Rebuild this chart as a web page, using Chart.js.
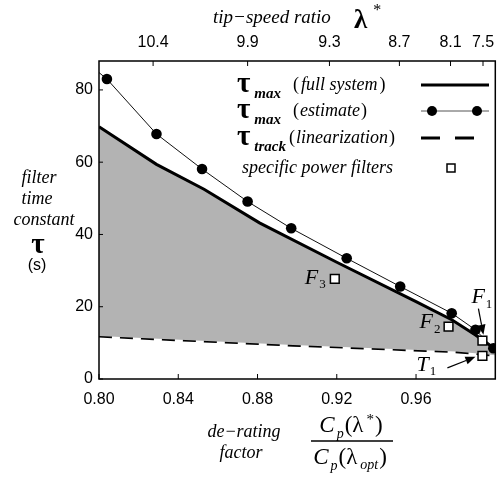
<!DOCTYPE html>
<html>
<head>
<meta charset="utf-8">
<script src="https://cdn.jsdelivr.net/npm/chart.js@4.4.1/dist/chart.umd.min.js"></script>
<style>
  html, body { margin: 0; padding: 0; background: #fff; }
</style>
</head>
<body>
<canvas id="tauChart" width="503" height="477"></canvas>
<script>
// de-rating factor (bottom axis) vs filter time constant tau (s)
const fullSystemX = [0.800, 0.829, 0.853, 0.881, 0.920, 0.960, 0.978, 0.990, 1.000];
const fullSystemY = [69.8, 59.4, 52.5, 43.2, 32.3, 21.4, 16.4, 12.2, 8.3];

const estimateX = [0.800, 0.804, 0.829, 0.852, 0.875, 0.897, 0.925, 0.952, 0.978, 0.990, 0.999];
const estimateY = [84.8, 83.0, 67.8, 58.1, 49.1, 41.7, 33.4, 25.6, 18.2, 13.6, 8.5];

const trackX = [0.800, 0.898, 0.980, 0.994, 1.000];
const trackY = [11.9, 9.4, 7.6, 6.9, 6.6];

// specific power filters F1, F2, F3, T1
const filterX = [0.9935, 0.9764, 0.919, 0.9935];
const filterY = [10.6, 14.5, 27.7, 6.4];
const filterNames = ['F', 'F', 'F', 'T'];
const filterSubs = ['1', '2', '3', '1'];

const bottomTickValues = [0.80, 0.84, 0.88, 0.92, 0.96];
const yTickValues = [0, 20, 40, 60, 80];
// top axis: tip-speed ratio, placed on the de-rating scale
const topTickValues = [0.8273, 0.8750, 0.9163, 0.9516, 0.9774, 0.9938];
const topTickLabels = ['10.4', '9.9', '9.3', '8.7', '8.1', '7.5'];

const toPoints = (xs, ys) => xs.map((x, i) => ({ x: x, y: ys[i] }));

const SERIF = "'Liberation Serif', 'Times New Roman', serif";
const SANS = "'Liberation Sans', Arial, sans-serif";

// draws a row of text pieces, each with its own font and vertical shift
function runWidth(ctx, runs) {
    let w = 0;
    runs.forEach(r => { ctx.font = r.font; w += ctx.measureText(r.t).width + (r.gap || 0); });
    return w;
}
function drawRuns(ctx, x, y, runs, align) {
    let cx = x;
    if (align === 'center') cx = x - runWidth(ctx, runs) / 2;
    runs.forEach(r => {
        ctx.font = r.font;
        ctx.fillText(r.t, cx, y + (r.dy || 0));
        cx += ctx.measureText(r.t).width + (r.gap || 0);
    });
}

function arrow(ctx, x1, y1, x2, y2) {
    const a = Math.atan2(y2 - y1, x2 - x1);
    const hl = 10, hw = 4;
    ctx.beginPath();
    ctx.moveTo(x1, y1);
    ctx.lineTo(x2 - hl * Math.cos(a), y2 - hl * Math.sin(a));
    ctx.lineWidth = 1.2;
    ctx.stroke();
    ctx.beginPath();
    ctx.moveTo(x2, y2);
    ctx.lineTo(x2 - hl * Math.cos(a) + hw * Math.sin(a), y2 - hl * Math.sin(a) - hw * Math.cos(a));
    ctx.lineTo(x2 - hl * Math.cos(a) - hw * Math.sin(a), y2 - hl * Math.sin(a) + hw * Math.cos(a));
    ctx.closePath();
    ctx.fill();
}

const decorPlugin = {
    id: 'decor',
    afterDraw(chart) {
        const ctx = chart.ctx;
        const area = chart.chartArea;
        const xs = chart.scales.x, ys = chart.scales.y, xt = chart.scales.xTop;
        ctx.save();
        ctx.fillStyle = '#000';
        ctx.strokeStyle = '#000';

        // frame + inward ticks
        ctx.lineWidth = 1.5;
        ctx.strokeRect(area.left, area.top, area.right - area.left, area.bottom - area.top);
        ctx.lineWidth = 1;
        ctx.beginPath();
        bottomTickValues.forEach(v => {
            const px = xs.getPixelForValue(v);
            ctx.moveTo(px, area.bottom); ctx.lineTo(px, area.bottom - 5);
        });
        topTickValues.forEach(v => {
            const px = xt.getPixelForValue(v);
            ctx.moveTo(px, area.top); ctx.lineTo(px, area.top + 5);
        });
        yTickValues.forEach(v => {
            const py = ys.getPixelForValue(v);
            ctx.moveTo(area.left, py); ctx.lineTo(area.left + 4, py);
        });
        ctx.stroke();

        // filter labels and arrows
        ctx.textBaseline = 'middle';
        ctx.textAlign = 'left';
        const labelOff = [[-11, -43], [-29, -4], [-30, -1], [-66, 9]];
        filterX.forEach((fx, i) => {
            const px = xs.getPixelForValue(fx), py = ys.getPixelForValue(filterY[i]);
            const lx = px + labelOff[i][0], ly = py + labelOff[i][1];
            drawRuns(ctx, lx, ly, [
                { t: filterNames[i], font: 'italic 22px ' + SERIF, gap: 1 },
                { t: filterSubs[i], font: '13px ' + SERIF, dy: 7 }
            ]);
        });
        const p1x = xs.getPixelForValue(filterX[0]), p1y = ys.getPixelForValue(filterY[0]);
        arrow(ctx, p1x - 4, p1y - 32, p1x + 1, p1y - 6);
        const t1x = xs.getPixelForValue(filterX[3]), t1y = ys.getPixelForValue(filterY[3]);
        arrow(ctx, t1x - 35, t1y + 12, t1x - 7, t1y + 1);

        // legend
        const tauFont = 'bold 29px ' + SERIF;
        const subFont = 'bold italic 15px ' + SERIF;
        const itFont = 'italic 18px ' + SERIF;
        const upFont = '18px ' + SERIF;
        const lgX = 237, sampleL = 421, sampleR = 489;
        const rows = [85, 111, 138, 168];
        drawRuns(ctx, lgX, rows[0], [
            { t: 'τ', font: tauFont, gap: 4 }, { t: 'max', font: subFont, dy: 9, gap: 12 },
            { t: '(', font: upFont, gap: 2 }, { t: 'full system', font: itFont, gap: 2 }, { t: ')', font: upFont }
        ]);
        drawRuns(ctx, lgX, rows[1], [
            { t: 'τ', font: tauFont, gap: 4 }, { t: 'max', font: subFont, dy: 9, gap: 12 },
            { t: '(', font: upFont, gap: 1 }, { t: 'estimate', font: itFont, gap: 1 }, { t: ')', font: upFont }
        ]);
        drawRuns(ctx, lgX, rows[2], [
            { t: 'τ', font: tauFont, gap: 4 }, { t: 'track', font: subFont, dy: 9, gap: 3 },
            { t: '(', font: upFont, gap: 1 }, { t: 'linearization', font: itFont, gap: 1 }, { t: ')', font: upFont }
        ]);
        drawRuns(ctx, 242, rows[3], [{ t: 'specific power filters', font: itFont }]);

        ctx.lineWidth = 3;
        ctx.beginPath(); ctx.moveTo(sampleL, rows[0]); ctx.lineTo(sampleR, rows[0]); ctx.stroke();
        ctx.lineWidth = 1;
        ctx.strokeStyle = '#555';
        ctx.beginPath(); ctx.moveTo(sampleL, rows[1]); ctx.lineTo(sampleR, rows[1]); ctx.stroke();
        ctx.strokeStyle = '#000';
        [432, 477].forEach(cx => { ctx.beginPath(); ctx.arc(cx, rows[1], 5, 0, Math.PI * 2); ctx.fill(); });
        ctx.lineWidth = 3.2;
        ctx.setLineDash([19, 15]);
        ctx.beginPath(); ctx.moveTo(sampleL, rows[2]); ctx.lineTo(sampleR, rows[2]); ctx.stroke();
        ctx.setLineDash([]);
        ctx.lineWidth = 1.5;
        ctx.strokeRect(447, rows[3] - 4, 8, 8);

        // top title
        drawRuns(ctx, 213, 18, [{ t: 'tip−speed ratio', font: 'italic 19px ' + SERIF }]);
        drawRuns(ctx, 354, 21, [{ t: 'λ', font: 'bold 27px ' + SERIF, gap: 6 }, { t: '*', font: '16px ' + SERIF, dy: -10 }]);

        // y title
        drawRuns(ctx, 39, 178, [{ t: 'filter', font: itFont }], 'center');
        drawRuns(ctx, 37, 199, [{ t: 'time', font: itFont }], 'center');
        drawRuns(ctx, 44, 220, [{ t: 'constant', font: itFont }], 'center');
        drawRuns(ctx, 38, 246, [{ t: 'τ', font: tauFont }], 'center');
        drawRuns(ctx, 37, 266, [{ t: '(s)', font: '16px ' + SANS }], 'center');

        // x title
        drawRuns(ctx, 244, 432, [{ t: 'de−rating', font: itFont }], 'center');
        drawRuns(ctx, 241, 453, [{ t: 'factor', font: itFont }], 'center');
        const cFont = 'italic 23px ' + SERIF, pFont = 'italic 14px ' + SERIF, pr = '23px ' + SERIF;
        drawRuns(ctx, 351, 426, [
            { t: 'C', font: cFont, gap: 2 }, { t: 'p', font: pFont, dy: 8, gap: 1 },
            { t: '(', font: pr }, { t: 'λ', font: pr, gap: 3 }, { t: '*', font: '15px ' + SERIF, dy: -6, gap: 1 }, { t: ')', font: pr }
        ], 'center');
        ctx.lineWidth = 1.6;
        ctx.beginPath(); ctx.moveTo(311, 441); ctx.lineTo(393, 441); ctx.stroke();
        drawRuns(ctx, 350, 458, [
            { t: 'C', font: cFont, gap: 2 }, { t: 'p', font: pFont, dy: 8, gap: 1 },
            { t: '(', font: pr }, { t: 'λ', font: pr, gap: 3 }, { t: 'opt', font: pFont, dy: 7, gap: 1 }, { t: ')', font: pr }
        ], 'center');

        ctx.restore();
    }
};

const tickFont = { family: SANS, size: 16 };

// keep the plot box fixed: no extra padding for edge labels
function zeroPad(scale) {
    scale.paddingLeft = 0; scale.paddingRight = 0;
    scale.paddingTop = 0; scale.paddingBottom = 0;
}

const config = {
    type: 'line',
    data: {
        datasets: [
            {
                label: 'specific power filters',
                data: toPoints(filterX, filterY),
                showLine: false,
                pointStyle: 'rect',
                pointRadius: 6.2,
                pointBorderWidth: 1.5,
                pointBorderColor: '#000',
                pointBackgroundColor: '#fff',
                clip: false
            },
            {
                label: 'tau max (estimate)',
                data: toPoints(estimateX, estimateY),
                borderColor: '#111',
                borderWidth: 1,
                pointRadius: estimateX.map((v, i) => i === 0 ? 0 : 5.3),
                pointBackgroundColor: '#000',
                pointBorderWidth: 0,
                fill: false
            },
            {
                label: 'tau max (full system)',
                data: toPoints(fullSystemX, fullSystemY),
                borderColor: '#000',
                borderWidth: 3,
                pointRadius: 0,
                fill: '+1',
                backgroundColor: '#b3b3b3'
            },
            {
                label: 'tau track (linearization)',
                data: toPoints(trackX, trackY),
                borderColor: '#000',
                borderWidth: 3.2,
                borderDash: [13, 8],
                pointRadius: 0,
                fill: false
            }
        ]
    },
    options: {
        responsive: false,
        animation: false,
        layout: { padding: { left: 0, right: 2, top: 0, bottom: 0 } },
        plugins: {
            legend: { display: false },
            tooltip: { enabled: false }
        },
        scales: {
            x: {
                type: 'linear',
                position: 'bottom',
                min: 0.80,
                max: 1.00,
                grid: { display: false, drawTicks: false },
                border: { display: false },
                afterBuildTicks: scale => { scale.ticks = bottomTickValues.map(v => ({ value: v })); },
                afterFit: scale => { scale.height = 98; zeroPad(scale); },
                ticks: {
                    autoSkip: false,
                    maxRotation: 0,
                    padding: 11,
                    color: '#000',
                    font: tickFont,
                    callback: v => v.toFixed(2)
                }
            },
            xTop: {
                type: 'linear',
                position: 'top',
                min: 0.80,
                max: 1.00,
                grid: { display: false, drawTicks: false },
                border: { display: false },
                afterBuildTicks: scale => { scale.ticks = topTickValues.map(v => ({ value: v })); },
                afterFit: scale => { scale.height = 61; zeroPad(scale); },
                ticks: {
                    autoSkip: false,
                    maxRotation: 0,
                    padding: 9,
                    color: '#000',
                    font: tickFont,
                    callback: (v, i) => topTickLabels[i]
                }
            },
            y: {
                min: 0,
                max: 88,
                grid: { display: false, drawTicks: false },
                border: { display: false },
                afterBuildTicks: scale => { scale.ticks = yTickValues.map(v => ({ value: v })); },
                afterFit: scale => { scale.width = 99; zeroPad(scale); },
                ticks: {
                    padding: 6,
                    color: '#000',
                    font: tickFont
                }
            }
        }
    },
    plugins: [decorPlugin]
};

new Chart(document.getElementById('tauChart').getContext('2d'), config);
</script>
</body>
</html>
